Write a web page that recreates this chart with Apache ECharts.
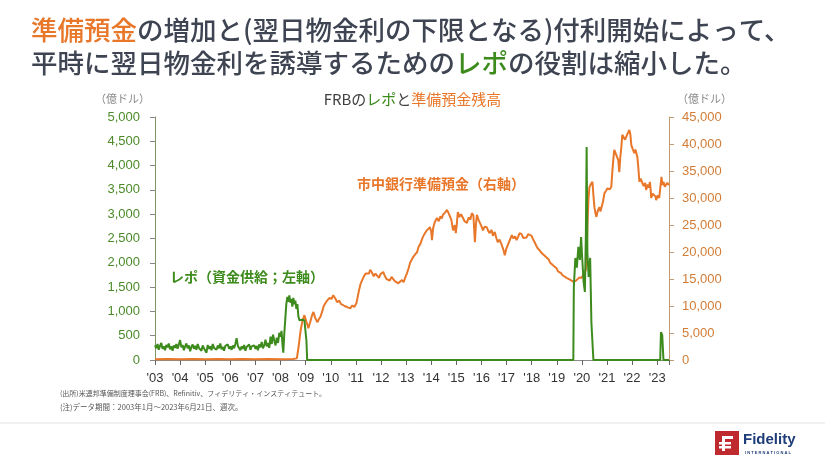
<!DOCTYPE html>
<html>
<head>
<meta charset="utf-8">
<script src="https://cdn.jsdelivr.net/npm/echarts@6/dist/echarts.min.js"></script>
<style>
html,body{margin:0;padding:0;background:#fff;}
#c{width:825px;height:464px;}
</style>
</head>
<body>
<div id="c"></div>
<script>
// Year tick labels
const yearTicks = ["'03","'04","'05","'06","'07","'08","'09","'10","'11","'12","'13","'14","'15","'16","'17","'18","'19","'20","'21","'22","'23"];
const leftTicks = [0,500,1000,1500,2000,2500,3000,3500,4000,4500,5000];
const rightTicks = [0,5000,10000,15000,20000,25000,30000,35000,40000,45000];

// FRB repo (left axis, 億ドル): [decimal year, value]
const repo = [
[2003.00,300],[2003.05,240],[2003.10,330],[2003.15,210],[2003.20,290],[2003.25,350],[2003.30,230],[2003.35,280],[2003.40,200],[2003.45,310],
[2003.50,260],[2003.55,340],[2003.60,220],[2003.65,280],[2003.70,190],[2003.75,300],[2003.80,250],[2003.85,330],[2003.90,230],[2003.95,270],
[2004.00,410],[2004.05,260],[2004.10,310],[2004.15,200],[2004.20,280],[2004.25,340],[2004.30,240],[2004.35,300],[2004.40,180],[2004.45,270],
[2004.50,320],[2004.55,230],[2004.60,290],[2004.65,210],[2004.70,330],[2004.75,250],[2004.80,280],[2004.85,190],[2004.90,300],[2004.95,240],
[2005.00,270],[2005.05,150],[2005.10,310],[2005.15,230],[2005.20,280],[2005.25,200],[2005.30,330],[2005.35,250],[2005.40,290],[2005.45,210],
[2005.50,300],[2005.55,240],[2005.60,340],[2005.65,220],[2005.70,270],[2005.75,190],[2005.80,290],[2005.85,250],[2005.90,320],[2005.95,230],
[2006.00,280],[2006.05,210],[2006.10,300],[2006.15,240],[2006.20,330],[2006.25,450],[2006.30,290],[2006.35,250],[2006.40,200],[2006.45,280],
[2006.50,230],[2006.55,310],[2006.60,190],[2006.65,270],[2006.70,240],[2006.75,320],[2006.80,210],[2006.85,280],[2006.90,250],[2006.95,300],
[2007.00,230],[2007.05,290],[2007.10,200],[2007.15,320],[2007.20,260],[2007.25,370],[2007.30,240],[2007.35,300],[2007.40,420],[2007.45,280],
[2007.50,350],[2007.55,250],[2007.60,480],[2007.65,330],[2007.70,520],[2007.75,400],[2007.80,300],[2007.85,460],[2007.90,350],[2007.95,560],
[2008.00,480],[2008.04,600],[2008.08,300],[2008.11,150],[2008.15,550],[2008.19,850],[2008.23,1150],[2008.27,1300],[2008.31,1200],[2008.35,1330],
[2008.39,1180],[2008.43,1260],[2008.47,1100],[2008.51,1280],[2008.55,1150],[2008.59,1220],[2008.63,1050],[2008.67,1150],[2008.71,900],[2008.75,820],
[2008.80,800],[2008.85,830],[2008.90,800],[2008.95,820],[2009.00,780],[2009.03,400],[2009.06,0],
[2019.66,0],[2019.68,1500],[2019.74,2100],[2019.80,1900],[2019.86,2330],[2019.92,2060],[2019.97,2530],[2020.01,2120],[2020.07,1600],[2020.12,1400],
[2020.16,2600],[2020.19,4385],[2020.22,2200],[2020.27,1710],[2020.33,2100],[2020.38,760],[2020.46,0],
[2023.12,0],[2023.15,575],[2023.20,515],[2023.25,0],[2023.47,0]
];

// Commercial bank reserves (right axis, 億ドル): [decimal year, value]
const reserves = [
[2003.0,150],[2003.5,200],[2004.0,120],[2004.5,180],[2005.0,150],[2005.5,200],[2006.0,130],[2006.5,180],[2007.0,150],[2007.5,200],[2008.0,150],[2008.5,200],[2008.65,300],
[2008.72,2500],[2008.8,5500],[2008.87,7200],[2008.95,8300],[2009.0,8000],[2009.05,6800],[2009.11,5900],[2009.18,7000],[2009.25,8200],[2009.31,8900],[2009.38,7800],
[2009.47,7000],[2009.53,7600],[2009.59,8000],[2009.66,9000],[2009.72,10000],[2009.79,10550],[2009.87,11100],[2009.95,11500],[2010.03,11300],[2010.10,12000],
[2010.18,11400],[2010.26,10700],[2010.34,11000],[2010.40,10400],[2010.46,10550],[2010.55,10000],[2010.62,10300],[2010.70,9700],[2010.78,9600],[2010.86,10100],
[2010.94,9800],[2011.02,10500],[2011.06,11400],[2011.12,12800],[2011.18,14000],[2011.25,14800],[2011.32,15500],[2011.39,16000],[2011.45,16300],[2011.52,16000],
[2011.57,16700],[2011.64,16200],[2011.71,15500],[2011.78,16000],[2011.85,15700],[2011.92,15200],[2011.98,15900],[2012.04,15600],[2012.09,16300],[2012.15,15600],
[2012.22,15000],[2012.29,15200],[2012.35,14700],[2012.42,15400],[2012.48,15200],[2012.55,14600],[2012.62,14900],[2012.69,14200],[2012.76,14300],[2012.83,14800],
[2012.90,14400],[2012.96,15200],[2013.03,16000],[2013.10,17000],[2013.16,18000],[2013.23,18600],[2013.30,19200],[2013.37,19600],[2013.44,20000],[2013.50,21000],
[2013.57,21500],[2013.62,22200],[2013.67,22800],[2013.74,23400],[2013.81,23900],[2013.88,24200],[2013.95,24600],[2014.00,23800],[2014.03,22200],[2014.08,24500],
[2014.14,25500],[2014.23,26300],[2014.30,25700],[2014.37,26600],[2014.42,26200],[2014.47,26900],[2014.55,27300],[2014.63,27800],[2014.70,27100],[2014.75,27400],
[2014.80,26000],[2014.87,24000],[2014.94,25000],[2014.98,23500],[2015.02,25200],[2015.06,27400],[2015.12,26500],[2015.19,27000],[2015.26,26900],[2015.33,25700],
[2015.42,25400],[2015.49,26400],[2015.56,26000],[2015.62,27200],[2015.68,26800],[2015.74,21800],[2015.78,25000],[2015.82,26900],[2015.88,26000],[2015.94,25400],
[2016.00,24800],[2016.06,24000],[2016.13,24700],[2016.21,24600],[2016.27,23900],[2016.33,23500],[2016.40,24100],[2016.46,23000],[2016.53,23700],[2016.60,22500],
[2016.65,21800],[2016.72,22300],[2016.81,21300],[2016.87,20500],[2016.93,19400],[2016.99,20600],[2017.05,20900],[2017.12,22100],[2017.21,23100],[2017.28,22500],
[2017.34,22900],[2017.40,22200],[2017.46,22800],[2017.52,23500],[2017.60,23300],[2017.66,22600],[2017.72,22800],[2017.80,22700],[2017.86,23300],[2017.92,23100],
[2018.00,23000],[2018.06,22300],[2018.12,21800],[2018.18,21200],[2018.24,20700],[2018.32,20300],[2018.40,19800],[2018.47,19600],[2018.54,19200],[2018.60,18900],
[2018.68,18600],[2018.74,18000],[2018.79,18200],[2018.86,17500],[2018.93,17200],[2018.99,17000],[2019.05,16400],[2019.11,16700],[2019.17,16100],[2019.23,15700],
[2019.30,15900],[2019.39,15200],[2019.45,15500],[2019.52,14900],[2019.59,14800],[2019.65,14500],[2019.71,14300],[2019.77,14700],[2019.83,14800],[2019.90,15300],
[2019.98,15200],[2020.04,15600],[2020.10,15700],[2020.16,16700],[2020.18,18500],[2020.22,24600],[2020.26,29500],[2020.30,32000],[2020.36,32600],[2020.42,33000],
[2020.46,30500],[2020.50,28300],[2020.54,27200],[2020.58,26500],[2020.63,27600],[2020.70,28300],[2020.74,27500],[2020.78,27200],[2020.84,29300],[2020.90,30900],
[2020.96,31300],[2021.02,31800],[2021.10,31600],[2021.17,32000],[2021.21,34600],[2021.25,37000],[2021.29,38900],[2021.35,38200],[2021.41,38500],[2021.45,37000],
[2021.49,34800],[2021.53,37500],[2021.57,39300],[2021.61,41700],[2021.66,41300],[2021.72,40800],[2021.77,41100],[2021.83,42000],[2021.89,42600],[2021.93,41800],
[2021.97,39800],[2022.03,39000],[2022.09,38300],[2022.13,39000],[2022.17,39300],[2022.21,37600],[2022.25,35500],[2022.29,33000],[2022.34,33600],[2022.40,33300],
[2022.46,32200],[2022.52,32800],[2022.56,31500],[2022.62,32500],[2022.67,31900],[2022.71,33000],[2022.74,31500],[2022.76,30000],[2022.82,30800],[2022.88,31100],
[2022.93,30300],[2022.96,29600],[2023.02,30500],[2023.08,30000],[2023.13,30200],[2023.17,33900],[2023.21,32400],[2023.25,33000],[2023.30,32100],[2023.35,32000],
[2023.40,32800],[2023.47,32400]
];

const ORANGE = '#E8772A';
const GREEN = '#3C8B1C';
const TEXT = '#3E4452';
const JP = '"Noto Sans CJK JP", "Noto Sans", sans-serif';
const NUM = '"Liberation Sans", Arial, sans-serif';

const chart = echarts.init(document.getElementById('c'), null, {renderer: 'canvas'});
chart.setOption({
  animation: false,
  backgroundColor: '#fff',
  title: [
    {
      left: 26, top: 8,
      text: '{o|準備預金}{d|の増加と(翌日物金利の下限となる)付利開始によって、}\n{d|平時に翌日物金利を誘導するための}{g|レポ}{d|の役割は縮小した。}',
      textStyle: {
        rich: {
          o: {color: ORANGE, fontSize: 26.5, fontWeight: 500, fontFamily: JP, lineHeight: 33},
          g: {color: GREEN, fontSize: 26.5, fontWeight: 500, fontFamily: JP, lineHeight: 33},
          d: {color: TEXT, fontSize: 26.5, fontWeight: 500, fontFamily: JP, lineHeight: 33}
        }
      }
    },
    {
      left: 'center', top: 87,
      text: '{d|FRBの}{g|レポ}{d|と}{o|準備預金残高}',
      textStyle: {
        fontWeight: 'normal',
        rich: {
          d: {color: '#404040', fontSize: 15, fontWeight: 'normal', fontFamily: JP},
          g: {color: GREEN, fontSize: 15, fontWeight: 'normal', fontFamily: JP},
          o: {color: ORANGE, fontSize: 15, fontWeight: 'normal', fontFamily: JP}
        }
      }
    }
  ],
  grid: {left: 155, right: 156, top: 117, bottom: 104, containLabel: false},
  xAxis: {
    type: 'value', min: 2003, max: 2023.47, interval: 1,
    axisLine: {show: true, lineStyle: {color: '#8a8a8a', width: 1}},
    axisTick: {show: true, length: 5, lineStyle: {color: '#666'}},
    splitLine: {show: false},
    axisLabel: {
      color: '#333', fontSize: 13, fontFamily: NUM, margin: 12,
      formatter: function (v) {
        const i = Math.round(v) - 2003;
        return Math.abs(v - Math.round(v)) < 1e-6 && i >= 0 && i < yearTicks.length ? yearTicks[i] : '';
      }
    }
  },
  yAxis: [
    {
      type: 'value', min: leftTicks[0], max: leftTicks[leftTicks.length - 1], interval: 500, position: 'left',
      axisLine: {show: true, lineStyle: {color: '#7E9467'}},
      axisTick: {show: true, length: 5, lineStyle: {color: '#888'}},
      splitLine: {show: false},
      axisLabel: {color: '#4C8A2A', fontSize: 13, fontFamily: NUM, margin: 15,
        formatter: v => v.toLocaleString('en-US')}
    },
    {
      type: 'value', min: rightTicks[0], max: rightTicks[rightTicks.length - 1], interval: 5000, position: 'right',
      axisLine: {show: true, lineStyle: {color: '#C39B73'}},
      axisTick: {show: true, length: 5, lineStyle: {color: '#C39B73'}},
      splitLine: {show: false},
      axisLabel: {color: '#D27C36', fontSize: 13, fontFamily: NUM, margin: 13,
        formatter: v => v.toLocaleString('en-US')}
    }
  ],
  series: [
    {
      name: '市中銀行準備預金', type: 'line', yAxisIndex: 1, data: reserves,
      showSymbol: false, symbol: 'none', lineStyle: {color: ORANGE, width: 2}, z: 2
    },
    {
      name: 'レポ', type: 'line', yAxisIndex: 0, data: repo,
      showSymbol: false, symbol: 'none', lineStyle: {color: GREEN, width: 2}, z: 3
    }
  ],
  graphic: [
    {type: 'text', left: 95, top: 93, style: {text: '（億ドル）', fill: '#8a8a8a', font: '11px ' + JP}},
    {type: 'text', left: 677, top: 93, style: {text: '（億ドル）', fill: '#8a8a8a', font: '11px ' + JP}},
    {type: 'text', left: 170, top: 270, style: {text: 'レポ（資金供給；左軸）', fill: GREEN, font: 'bold 14px ' + JP}},
    {type: 'text', left: 357, top: 177, style: {text: '市中銀行準備預金（右軸）', fill: ORANGE, font: 'bold 14px ' + JP}},
    {type: 'text', left: 60, top: 390, style: {text: '(出所)米連邦準備制度理事会(FRB)、Refinitiv、フィデリティ・インスティテュート。', fill: '#555', font: '7px ' + JP}},
    {type: 'text', left: 60, top: 403, style: {text: '(注)データ期間：2003年1月～2023年6月21日、週次。', fill: '#555', font: '7.5px ' + JP}},
    {type: 'line', shape: {x1: 0, y1: 423, x2: 825, y2: 423}, style: {stroke: '#E2E2E2', lineWidth: 1}},
    {type: 'rect', shape: {x: 715, y: 431, width: 24, height: 24}, style: {fill: '#BE2A2E'}},
    {type: 'rect', shape: {x: 722, y: 436, width: 3, height: 15}, style: {fill: '#fff'}},
    {type: 'rect', shape: {x: 722, y: 436, width: 11, height: 3}, style: {fill: '#fff'}},
    {type: 'rect', shape: {x: 719, y: 442, width: 12, height: 2.5}, style: {fill: '#fff'}},
    {type: 'rect', shape: {x: 719, y: 446, width: 12, height: 2.5}, style: {fill: '#fff'}},
    {type: 'text', left: 743, top: 432, style: {text: 'Fidelity', fill: '#1E3C78', font: 'bold 15px "Liberation Sans", Arial, sans-serif'}},
    {type: 'text', left: 745, top: 451, style: {text: 'I N T E R N A T I O N A L', fill: '#1E3C78', font: 'bold 4px "Liberation Sans", Arial, sans-serif'}}
  ]
});
</script>
</body>
</html>
